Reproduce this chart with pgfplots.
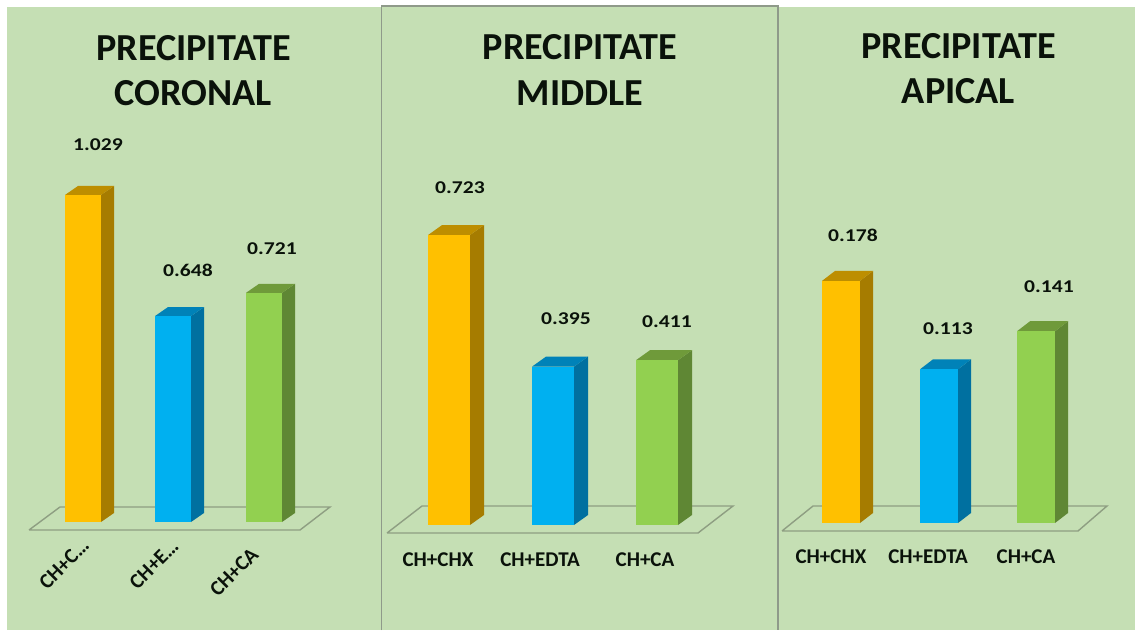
\documentclass[border=0pt]{standalone}
\usepackage{pgfplots}
\pgfplotsset{compat=1.18}
\usepackage{fontspec}
\setmainfont{Carlito}

\definecolor{panelbg}{HTML}{C5DFB4}
\definecolor{edge}{HTML}{8F9A8A}
\definecolor{floorline}{HTML}{8E9E82}
\definecolor{ink}{HTML}{0A120A}
\definecolor{orangef}{HTML}{FFC000}
\definecolor{oranges}{HTML}{A67C00}
\definecolor{oranget}{HTML}{BD8E00}
\definecolor{bluef}{HTML}{00B0F0}
\definecolor{blues}{HTML}{0070A0}
\definecolor{bluet}{HTML}{0082B8}
\definecolor{greenf}{HTML}{92D050}
\definecolor{greens}{HTML}{5F8734}
\definecolor{greent}{HTML}{6F9A3A}

% x axis is in reference pixels, y axis in data values
\pgfplotsset{
  panel/.style={
    scale only axis, clip=false,
    axis line style={draw=none},
    tick style={draw=none},
    major tick length=0pt,
    ytick=\empty,
    ymin=0,
    xticklabel style={font=\fontsize{21}{22}\selectfont\bfseries, text=ink, anchor=center},
    /pgf/number format/fixed,
    /pgf/number format/fixed zerofill,
    /pgf/number format/precision=3,
    /pgf/number format/assume math mode=true,
  },
  front/.style={ybar, bar shift=0pt, bar width=#1, draw=none, nodes near coords},
  val/.style 2 args={every node near coord/.append style={anchor=center, xshift=#1pt, yshift=#2pt,
    font=\fontsize{18}{18}\selectfont\bfseries, text=ink, xscale=1.2}},
  floorp/.style={draw=floorline, line width=1.4pt, no markers, line join=miter},
  face/.style={fill=#1, draw=none, no markers, forget plot},
}
\newcommand{\paneltitle}{\fontsize{38.2}{45.5}\selectfont\bfseries}

\begin{document}
\begin{tikzpicture}
\useasboundingbox (0,0) rectangle (1135pt,630pt);
\fill[white] (0,0) rectangle (1135pt,630pt);
\fill[panelbg] (7pt,0) rectangle (381pt,623pt);
\fill[panelbg] (381pt,0) rectangle (778pt,624pt);
\fill[panelbg] (778pt,0) rectangle (1135pt,623pt);
\draw[edge, line width=1.4pt] (381.5pt,0) -- (381.5pt,624pt) -- (778pt,624pt) -- (778pt,0);

% CORONAL
\begin{axis}[panel, at={(7pt,108pt)}, anchor=south west,
  width=374pt, height=508.5pt, xmin=7, xmax=381, ymax=1.6,
  xtick={64,154}, xticklabels={CH+C…,CH+E…},
  xticklabel style={yshift=-42pt, rotate=45},
  extra x ticks={234}, extra x tick labels={CH+CA},
  extra x tick style={xticklabel style={xshift=-5.66pt, yshift=-5.66pt}}]
\addplot[floorp, forget plot] coordinates {(29,-0.0252)(300,-0.0252)(330,0.0472)(60,0.0472)(29,-0.0252)};
\addplot[face=oranges] coordinates {(101,0)(114,0.0283)(114,1.0573)(101,1.029)};
\addplot[face=oranget] coordinates {(65,1.029)(101,1.029)(114,1.0573)(78,1.0573)};
\addplot[front=36, fill=orangef, val={15}{50}] coordinates {(83,1.029)};
\addplot[face=blues] coordinates {(191,0)(204,0.0283)(204,0.6763)(191,0.648)};
\addplot[face=bluet] coordinates {(155,0.648)(191,0.648)(204,0.6763)(168,0.6763)};
\addplot[front=36, fill=bluef, val={15}{46}] coordinates {(173,0.648)};
\addplot[face=greens] coordinates {(282,0)(295,0.0283)(295,0.7493)(282,0.721)};
\addplot[face=greent] coordinates {(246,0.721)(282,0.721)(295,0.7493)(259,0.7493)};
\addplot[front=36, fill=greenf, val={8}{44}] coordinates {(264,0.721)};
\node[align=center, text=ink, font=\paneltitle] at (axis cs:193.5,1.42) {PRECIPITATE\\CORONAL};
\end{axis}

% MIDDLE
\begin{axis}[panel, at={(382pt,105pt)}, anchor=south west,
  width=396pt, height=521.3pt, xmin=382, xmax=778, ymax=1.3,
  xtick={438,540,645}, xticklabels={CH+CHX,CH+EDTA,CH+CA},
  xticklabel style={yshift=-35pt}]
\addplot[floorp, forget plot] coordinates {(387,-0.02)(698,-0.02)(733,0.0474)(422,0.0474)(387,-0.02)};
\addplot[face=oranges] coordinates {(470,0)(484,0.0249)(484,0.7479)(470,0.723)};
\addplot[face=oranget] coordinates {(428,0.723)(470,0.723)(484,0.7479)(442,0.7479)};
\addplot[front=42, fill=orangef, val={11}{47}] coordinates {(449,0.723)};
\addplot[face=blues] coordinates {(574,0)(588,0.0249)(588,0.4199)(574,0.395)};
\addplot[face=bluet] coordinates {(532,0.395)(574,0.395)(588,0.4199)(546,0.4199)};
\addplot[front=42, fill=bluef, val={13}{48}] coordinates {(553,0.395)};
\addplot[face=greens] coordinates {(678,0)(692,0.0249)(692,0.4359)(678,0.411)};
\addplot[face=greent] coordinates {(636,0.411)(678,0.411)(692,0.4359)(650,0.4359)};
\addplot[front=42, fill=greenf, val={10}{39}] coordinates {(657,0.411)};
\node[align=center, text=ink, font=\paneltitle] at (axis cs:580,1.135) {PRECIPITATE\\MIDDLE};
\end{axis}

% APICAL
\begin{axis}[panel, at={(778pt,107pt)}, anchor=south west,
  width=357pt, height=516.8pt, xmin=778, xmax=1135, ymax=0.38,
  xtick={831,928,1026}, xticklabels={CH+CHX,CH+EDTA,CH+CA},
  xticklabel style={yshift=-34pt}]
\addplot[floorp, forget plot] coordinates {(782,-0.00588)(1078,-0.00588)(1107,0.0125)(813,0.0125)(782,-0.00588)};
\addplot[face=oranges] coordinates {(860,0)(873,0.00735)(873,0.18535)(860,0.178)};
\addplot[face=oranget] coordinates {(822,0.178)(860,0.178)(873,0.18535)(835,0.18535)};
\addplot[front=38, fill=orangef, val={12}{46}] coordinates {(841,0.178)};
\addplot[face=blues] coordinates {(958,0)(971,0.00735)(971,0.12035)(958,0.113)};
\addplot[face=bluet] coordinates {(920,0.113)(958,0.113)(971,0.12035)(933,0.12035)};
\addplot[front=38, fill=bluef, val={9}{41}] coordinates {(939,0.113)};
\addplot[face=greens] coordinates {(1055,0)(1068,0.00735)(1068,0.14835)(1055,0.141)};
\addplot[face=greent] coordinates {(1017,0.141)(1055,0.141)(1068,0.14835)(1030,0.14835)};
\addplot[front=38, fill=greenf, val={13}{45}] coordinates {(1036,0.141)};
\node[align=center, text=ink, font=\paneltitle] at (axis cs:958.5,0.334) {PRECIPITATE\\APICAL};
\end{axis}
\end{tikzpicture}
\end{document}
